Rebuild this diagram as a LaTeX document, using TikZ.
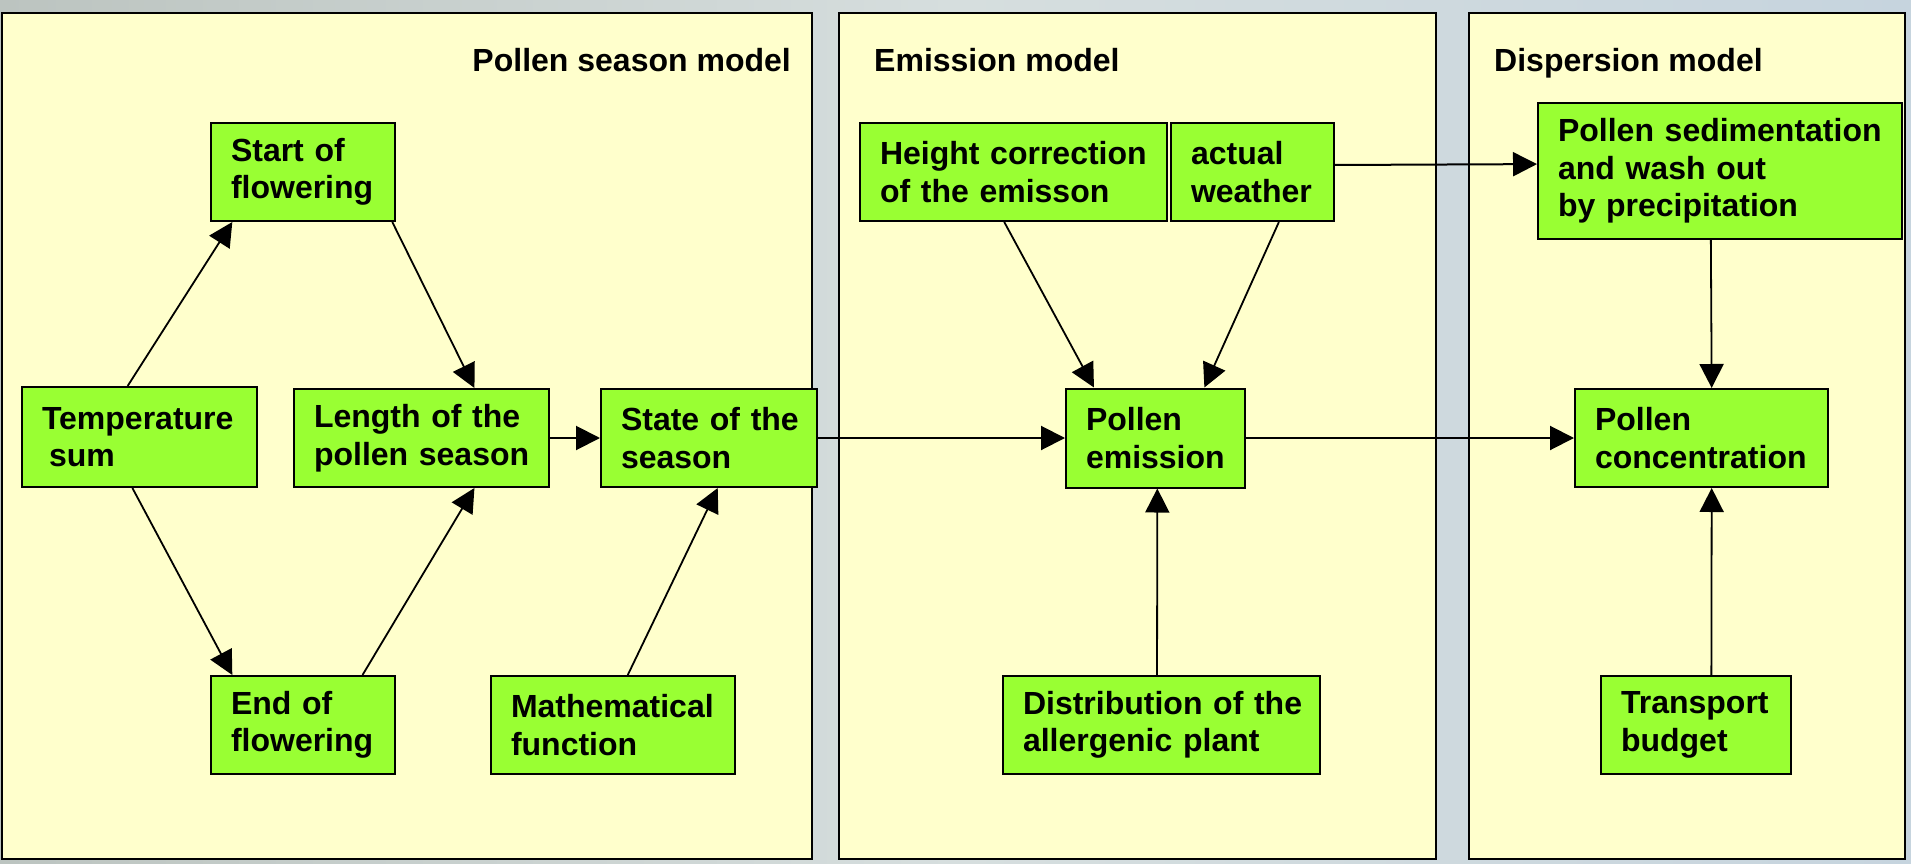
\documentclass[tikz,border=0pt]{standalone}
\usepackage{fontspec}
\setmainfont{Liberation Sans}
\usetikzlibrary{arrows.meta,calc}
\definecolor{bgA}{RGB}{188,196,192}
\definecolor{bgM}{RGB}{214,222,222}
\definecolor{bgB}{RGB}{198,212,222}
\definecolor{panelfill}{RGB}{255,255,204}
\definecolor{boxfill}{RGB}{153,255,51}
\tikzset{
  panel/.style={draw=black, line width=1.5pt, fill=panelfill},
  box/.style={draw=black, line width=2pt, fill=boxfill, align=left,
    inner xsep=20pt, inner ysep=0pt,
    font=\bfseries\fontsize{32}{37.5}\selectfont},
  paneltitle/.style={font=\bfseries\fontsize{32}{38}\selectfont, inner sep=0pt},
  conn/.style={line width=1.8pt, -{Triangle[length=24pt,width=24pt]}},
}
\begin{document}
\begin{tikzpicture}[x=1pt,y=1pt]
\useasboundingbox (0,0) rectangle (1911,-864);
\shade[left color=bgA, right color=bgB, middle color=bgM] (0,0) rectangle (1911,-864);

% panels
\draw[panel] (2,-13) rectangle (812,-859);
\draw[panel] (839,-13) rectangle (1436,-859);
\draw[panel] (1469,-13) rectangle (1905,-859);

\node[paneltitle, anchor=base east] (t1) at (791,-72) {Pollen season model};
\node[paneltitle, anchor=base west] (t2) at (874,-72) {Emission model};
\node[paneltitle, anchor=base west] (t3) at (1494,-72) {Dispersion model};

% boxes
\node[box, text width=195pt, minimum height=100pt] (temp) at (139.5,-437) {\mbox{Temperature}\\\mbox{\kern7pt sum}};
\node[box, text width=144pt, minimum height=98pt] (start) at (303,-172) {\mbox{Start of}\\\mbox{flowering}};
\node[box, text width=215pt, minimum height=98pt] (length) at (421.5,-438) {\mbox{Length of the}\\\mbox{pollen season}};
\node[box, text width=176pt, minimum height=98pt] (state) at (709,-438) {\mbox{State of the}\\\mbox{season}};
\node[box, text width=144pt, minimum height=98pt] (end) at (303,-725) {\mbox{End of}\\\mbox{flowering}};
\node[box, text width=204pt, minimum height=98pt] (math) at (613,-725) {\mbox{Mathematical}\\\mbox{function}};
\node[box, text width=267pt, minimum height=98pt] (height) at (1013.5,-172) {\mbox{Height correction}\\\mbox{of the emisson}};
\node[box, text width=123pt, minimum height=98pt] (weather) at (1252.5,-172) {\mbox{actual}\\\mbox{weather}};
\node[box, text width=139pt, minimum height=99pt] (emission) at (1155.5,-438) {\mbox{Pollen}\\\mbox{emission}};
\node[box, text width=277pt, minimum height=98pt] (dist) at (1161.5,-725) {\mbox{Distribution of the}\\\mbox{allergenic plant}};
\node[box, text width=324pt, minimum height=136pt] (sed) at (1720,-171) {\mbox{Pollen sedimentation}\\\mbox{and wash out}\\\mbox{by precipitation}};
\node[box, text width=213pt, minimum height=98pt] (conc) at (1701.5,-438) {\mbox{Pollen}\\\mbox{concentration}};
\node[box, text width=150pt, minimum height=98pt] (transport) at (1696,-725) {\mbox{Transport}\\\mbox{budget}};

% connectors
\draw[conn] ($(temp.north west)!0.45!(temp.north east)$) -- ($(start.south west)!0.12!(start.south east)$);
\draw[conn] ($(start.south west)!0.98!(start.south east)$) -- ($(length.north west)!0.706!(length.north east)$);
\draw[conn] ($(temp.south west)!0.47!(temp.south east)$) -- ($(end.north west)!0.12!(end.north east)$);
\draw[conn] ($(end.north west)!0.82!(end.north east)$) -- ($(length.south west)!0.706!(length.south east)$);
\draw[conn] ($(math.north west)!0.56!(math.north east)$) -- ($(state.south west)!0.54!(state.south east)$);
\draw[conn, line width=2pt] (length.east) -- (state.west);
\draw[conn, line width=2pt] (state.east) -- (emission.west);
\draw[conn] ($(height.south west)!0.47!(height.south east)$) -- ($(emission.north west)!0.16!(emission.north east)$);
\draw[conn] ($(weather.south west)!0.66!(weather.south east)$) -- ($(emission.north west)!0.77!(emission.north east)$);
\draw[conn, line width=2pt] ($(weather.north east)!0.43!(weather.south east)$) -- ($(sed.north west)!0.45!(sed.south west)$);
\draw[conn] ($(sed.south west)!0.475!(sed.south east)$) -- ($(conc.north west)!0.54!(conc.north east)$);
\draw[conn, line width=2pt] (emission.east) -- (conc.west);
\draw[conn] ($(dist.north west)!0.486!(dist.north east)$) -- ($(emission.south west)!0.51!(emission.south east)$);
\draw[conn] ($(transport.north west)!0.58!(transport.north east)$) -- ($(conc.south west)!0.54!(conc.south east)$);
\end{tikzpicture}
\end{document}
